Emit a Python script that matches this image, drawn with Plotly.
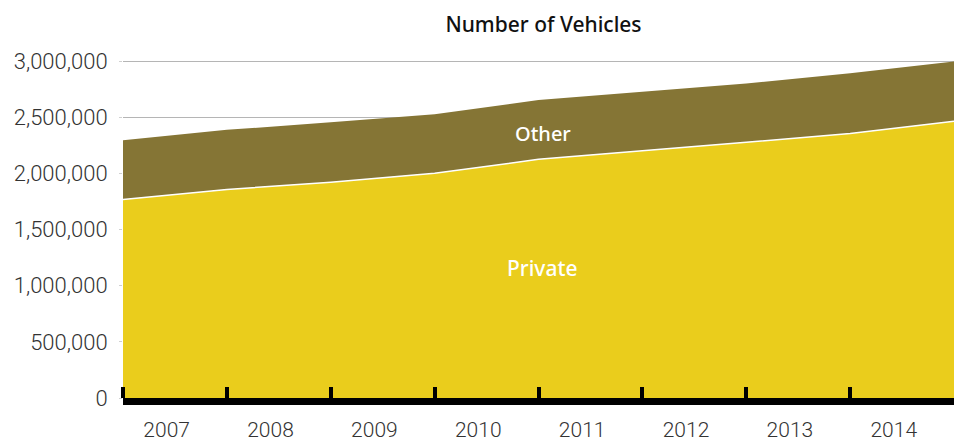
import plotly.graph_objects as go

# Start of each year (last point closes out 2014)
period_start = [2007, 2008, 2009, 2010, 2011, 2012, 2013, 2014, 2015]
private = [1768000, 1857000, 1921000, 2000000, 2125000, 2199000, 2277000, 2355000, 2464000]
other = [527000, 530000, 533000, 527000, 527000, 527000, 523000, 536000, 531000]

year_labels = ["2007", "2008", "2009", "2010", "2011", "2012", "2013", "2014"]
year_label_pos = [int(y) + 0.42 for y in year_labels]
year_bounds = [2007, 2008, 2009, 2010, 2011, 2012, 2013, 2014]

y_ticks = [0, 500000, 1000000, 1500000, 2000000, 2500000, 3000000]

YELLOW = "#EACD1C"
OLIVE = "#857535"
FONT = "Roboto"
LABEL_FONT = "Noto Sans"

fig = go.Figure()
fig.add_trace(go.Scatter(
    x=period_start, y=private, name="Private", stackgroup="v",
    mode="lines", line=dict(color="white", width=1.5),
    fillcolor=YELLOW, hoverinfo="skip",
))
fig.add_trace(go.Scatter(
    x=period_start, y=other, name="Other", stackgroup="v",
    mode="lines", line=dict(color=OLIVE, width=0),
    fillcolor=OLIVE, hoverinfo="skip",
))

fig.add_annotation(x=2011.04, y=2357000, text="Other", showarrow=False,
                   font=dict(family=LABEL_FONT, size=20, color="white", weight=500))
fig.add_annotation(x=2011.04, y=1161000, text="Private", showarrow=False,
                   font=dict(family=LABEL_FONT, size=21, color="white", weight=500))

fig.update_layout(
    width=954, height=442,
    margin=dict(l=123, r=0, t=58, b=40),
    plot_bgcolor="white", paper_bgcolor="white",
    showlegend=False,
    title=dict(text="Number of Vehicles", x=0.506, xref="paper", y=1 - 25 / 442,
               yref="container", xanchor="center", yanchor="middle",
               font=dict(family=LABEL_FONT, size=21, color="#111111", weight=500)),
    xaxis=dict(
        range=[2007, 2015], showgrid=False, zeroline=False,
        tickvals=year_label_pos, ticktext=year_labels, ticks="",
        tickfont=dict(family=FONT, size=21, color="#333333", weight=300),
        ticklabelstandoff=7,
        showline=True, linecolor="black", linewidth=7,
        minor=dict(tickvals=year_bounds, ticks="inside", ticklen=11,
                   tickwidth=4, tickcolor="black", showgrid=False),
    ),
    yaxis=dict(
        range=[0, 3026786], tickvals=y_ticks, tickformat=",",
        showgrid=True, gridcolor="#b5b5b5", gridwidth=1, zeroline=False,
        ticks="outside", ticklen=3, tickcolor="#d0d0d0",
        ticklabelstandoff=7,
        tickfont=dict(family=FONT, size=22, color="#333333", weight=300),
    ),
)

fig.write_html("out.html")
